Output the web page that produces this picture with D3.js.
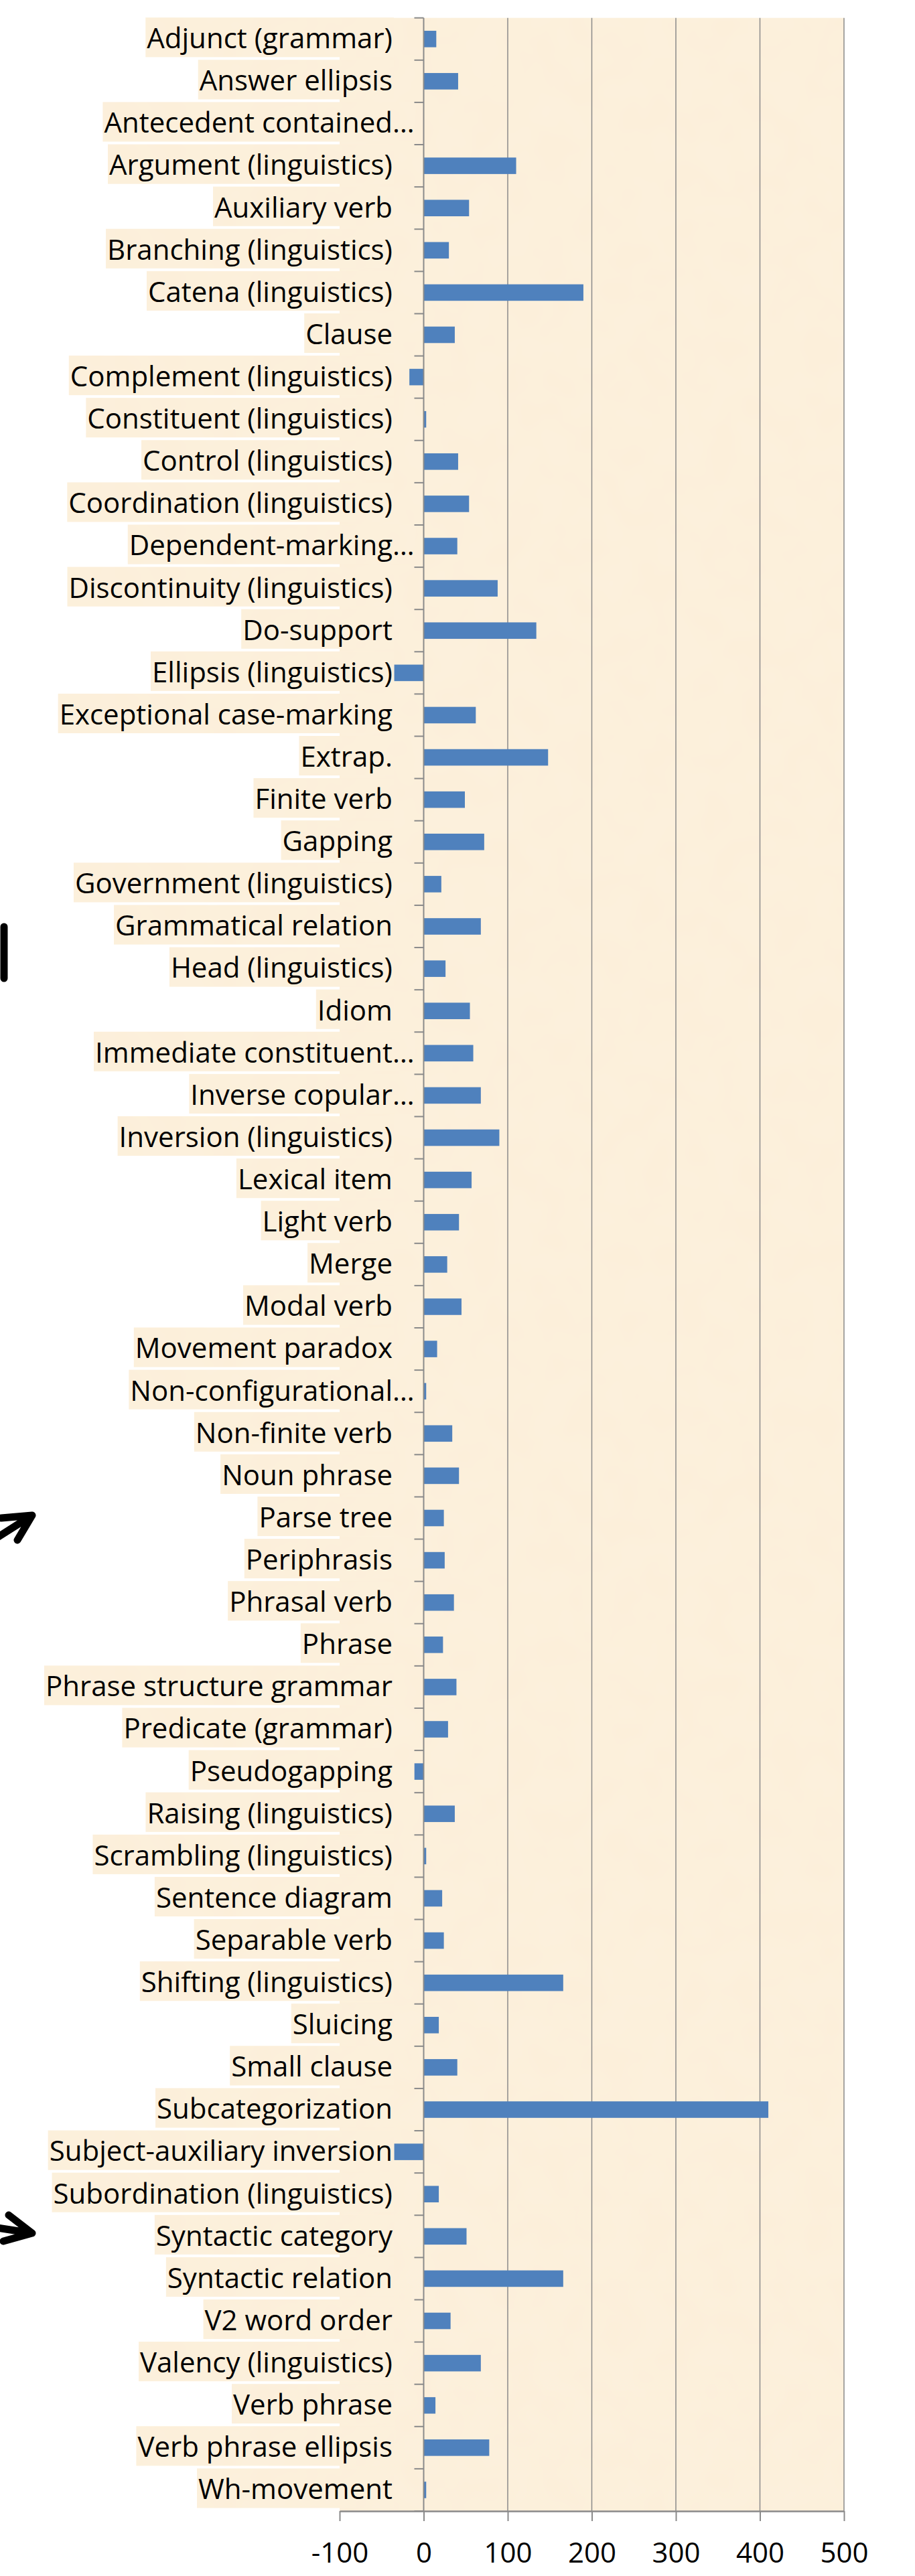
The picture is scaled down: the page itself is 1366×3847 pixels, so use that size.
<!DOCTYPE html>
<html>
<head>
<meta charset="utf-8">
<script src="https://cdn.jsdelivr.net/npm/d3@7"></script>
<style>
  body { margin: 0; background: #fff; }
  svg { display: block; }
  text { font-family: 'Open Sans', 'Noto Sans', sans-serif; fill: #000; }
</style>
</head>
<body>
<div class="chart"></div>
<script>
// data
const categories = [
  'Adjunct (grammar)', 'Answer ellipsis', 'Antecedent contained…', 'Argument (linguistics)',
  'Auxiliary verb', 'Branching (linguistics)', 'Catena (linguistics)', 'Clause',
  'Complement (linguistics)', 'Constituent (linguistics)', 'Control (linguistics)',
  'Coordination (linguistics)', 'Dependent-marking…', 'Discontinuity (linguistics)',
  'Do-support', 'Ellipsis (linguistics)', 'Exceptional case-marking', 'Extrap.',
  'Finite verb', 'Gapping', 'Government (linguistics)', 'Grammatical relation',
  'Head (linguistics)', 'Idiom', 'Immediate constituent…', 'Inverse copular…',
  'Inversion (linguistics)', 'Lexical item', 'Light verb', 'Merge', 'Modal verb',
  'Movement paradox', 'Non-configurational…', 'Non-finite verb', 'Noun phrase',
  'Parse tree', 'Periphrasis', 'Phrasal verb', 'Phrase', 'Phrase structure grammar',
  'Predicate (grammar)', 'Pseudogapping', 'Raising (linguistics)', 'Scrambling (linguistics)',
  'Sentence diagram', 'Separable verb', 'Shifting (linguistics)', 'Sluicing', 'Small clause',
  'Subcategorization', 'Subject-auxiliary inversion', 'Subordination (linguistics)',
  'Syntactic category', 'Syntactic relation', 'V2 word order', 'Valency (linguistics)',
  'Verb phrase', 'Verb phrase ellipsis', 'Wh-movement'
];

const values = [
  15, 41, 0, 110,
  54, 30, 190, 37,
  -17, 3, 41,
  54, 40, 88,
  134, -35, 62, 148,
  49, 72, 21, 68,
  26, 55, 59, 68,
  90, 57, 42, 28, 45,
  16, 3, 34, 42,
  24, 25, 36, 23, 39,
  29, -11, 37, 3,
  22, 24, 166, 18, 40,
  410, -35, 18,
  51, 166, 32, 68,
  14, 78, 3
];

const xTicks = [-100, 0, 100, 200, 300, 400, 500];
const xTickLabels = ['-100', '0', '100', '200', '300', '400', '500'];

const config = {
  width: 1366,
  height: 3847,
  plotLeft: 507,
  plotRight: 1260,
  plotTop: 26.7,
  plotBottom: 3750,
  labelRight: 586,
  fontSize: 42,
  bar: '#4f81bd',
  paper: '#fcefd9',
  grid: '#8a8a8a'
};

const svg = d3.select('.chart')
  .append('svg')
  .attr('width', config.width)
  .attr('height', config.height);

// parchment texture
const defs = svg.append('defs');
const filter = defs.append('filter')
  .attr('id', 'paper')
  .attr('x', 0).attr('y', 0).attr('width', 1).attr('height', 1);
filter.append('feTurbulence')
  .attr('type', 'fractalNoise')
  .attr('baseFrequency', 0.02)
  .attr('numOctaves', 2)
  .attr('seed', 3)
  .attr('result', 'noise');
filter.append('feColorMatrix')
  .attr('in', 'noise')
  .attr('type', 'matrix')
  .attr('values', '0 0 0 0 0.98  0 0 0 0 0.9  0 0 0 0 0.78  0 0 0 0.35 0')
  .attr('result', 'tint');
filter.append('feComposite')
  .attr('in', 'tint')
  .attr('in2', 'SourceGraphic')
  .attr('operator', 'atop');

const x = d3.scaleLinear()
  .domain([xTicks[0], xTicks[xTicks.length - 1]])
  .range([config.plotLeft, config.plotRight]);

const yRow = d3.scaleBand()
  .domain(categories)
  .range([config.plotTop, config.plotBottom])
  .padding(0);

const yBar = d3.scaleBand()
  .domain(categories)
  .range([config.plotTop, config.plotBottom])
  .paddingInner(0.61)
  .paddingOuter(0.305);

// plot area
svg.append('rect')
  .attr('x', config.plotLeft)
  .attr('y', config.plotTop)
  .attr('width', config.plotRight - config.plotLeft)
  .attr('height', config.plotBottom - config.plotTop)
  .attr('fill', config.paper)
  .attr('filter', 'url(#paper)');

// vertical gridlines
svg.append('g')
  .selectAll('line')
  .data(xTicks.filter(d => d > 0))
  .enter()
  .append('line')
  .attr('x1', d => x(d))
  .attr('x2', d => x(d))
  .attr('y1', config.plotTop)
  .attr('y2', config.plotBottom)
  .attr('stroke', config.grid)
  .attr('stroke-width', 1.5);

// bars
svg.append('g')
  .selectAll('rect')
  .data(categories)
  .enter()
  .append('rect')
  .attr('x', (d, i) => x(Math.min(0, values[i])))
  .attr('y', d => yBar(d))
  .attr('width', (d, i) => Math.abs(x(values[i]) - x(0)))
  .attr('height', yBar.bandwidth())
  .attr('fill', config.bar);

// category labels with their beige boxes
const labels = svg.append('g')
  .selectAll('g')
  .data(categories)
  .enter()
  .append('g')
  .attr('transform', d => `translate(0, ${yRow(d) + yRow.bandwidth() / 2})`)
  .each(function (d) {
    const $g = d3.select(this);
    const cut = d.endsWith('…');
    const base = cut ? d.slice(0, -1) : d;

    const $box = $g.append('rect')
      .attr('fill', config.paper)
      .attr('filter', 'url(#paper)');

    const $t = $g.append('text')
      .attr('x', config.labelRight)
      .attr('y', config.fontSize * 0.33)
      .attr('text-anchor', 'end')
      .attr('font-size', config.fontSize)
      .text(base);

    let right = config.labelRight + 2;
    if (cut) {
      const $dots = $g.append('text')
        .attr('x', config.labelRight)
        .attr('y', config.fontSize * 0.33)
        .attr('font-size', config.fontSize)
        .text('…');
      right = config.labelRight + $dots.node().getComputedTextLength() + 2;
    }
    const w = $t.node().getComputedTextLength();
    $box
      .attr('x', config.labelRight - w - 2)
      .attr('y', -yRow.bandwidth() / 2 - 0.5)
      .attr('width', right - (config.labelRight - w - 2))
      .attr('height', yRow.bandwidth() - 4);
  });

// category axis at zero with ticks on row boundaries
const rowEdges = categories.map(d => yRow(d)).concat([config.plotBottom]);
svg.append('g')
  .selectAll('line')
  .data(rowEdges)
  .enter()
  .append('line')
  .attr('x1', x(0) - 14)
  .attr('x2', x(0))
  .attr('y1', d => d)
  .attr('y2', d => d)
  .attr('stroke', config.grid)
  .attr('stroke-width', 2);

svg.append('line')
  .attr('x1', x(0))
  .attr('x2', x(0))
  .attr('y1', config.plotTop)
  .attr('y2', config.plotBottom)
  .attr('stroke', config.grid)
  .attr('stroke-width', 2);

// value axis
const xAxis = d3.axisBottom(x)
  .tickValues(xTicks)
  .tickFormat((d, i) => xTickLabels[i])
  .tickSize(15)
  .tickSizeOuter(0)
  .tickPadding(32);

const $xAxis = svg.append('g')
  .attr('transform', `translate(0, ${config.plotBottom})`)
  .call(xAxis);

$xAxis.select('.domain')
  .attr('stroke', config.grid)
  .attr('stroke-width', 2.5);
$xAxis.selectAll('.tick line')
  .attr('stroke', config.grid)
  .attr('stroke-width', 2);
$xAxis.selectAll('.tick text')
  .attr('font-size', config.fontSize)
  .attr('font-family', "'Open Sans', 'Noto Sans', sans-serif")
  .attr('fill', '#000');

// stray arrow marks at the left edge
const marks = svg.append('g')
  .attr('fill', 'none')
  .attr('stroke', '#000')
  .attr('stroke-width', 11)
  .attr('stroke-linecap', 'round')
  .attr('stroke-linejoin', 'round');
marks.append('path').attr('d', 'M6,1384 L6,1461');
marks.append('path').attr('d', 'M-4,2296 L48,2263 M2,2267 L48,2263 L26,2300');
marks.append('path').attr('d', 'M-4,3327 L48,3335 M13,3308 L48,3335 L5,3347');
</script>
</body>
</html>
